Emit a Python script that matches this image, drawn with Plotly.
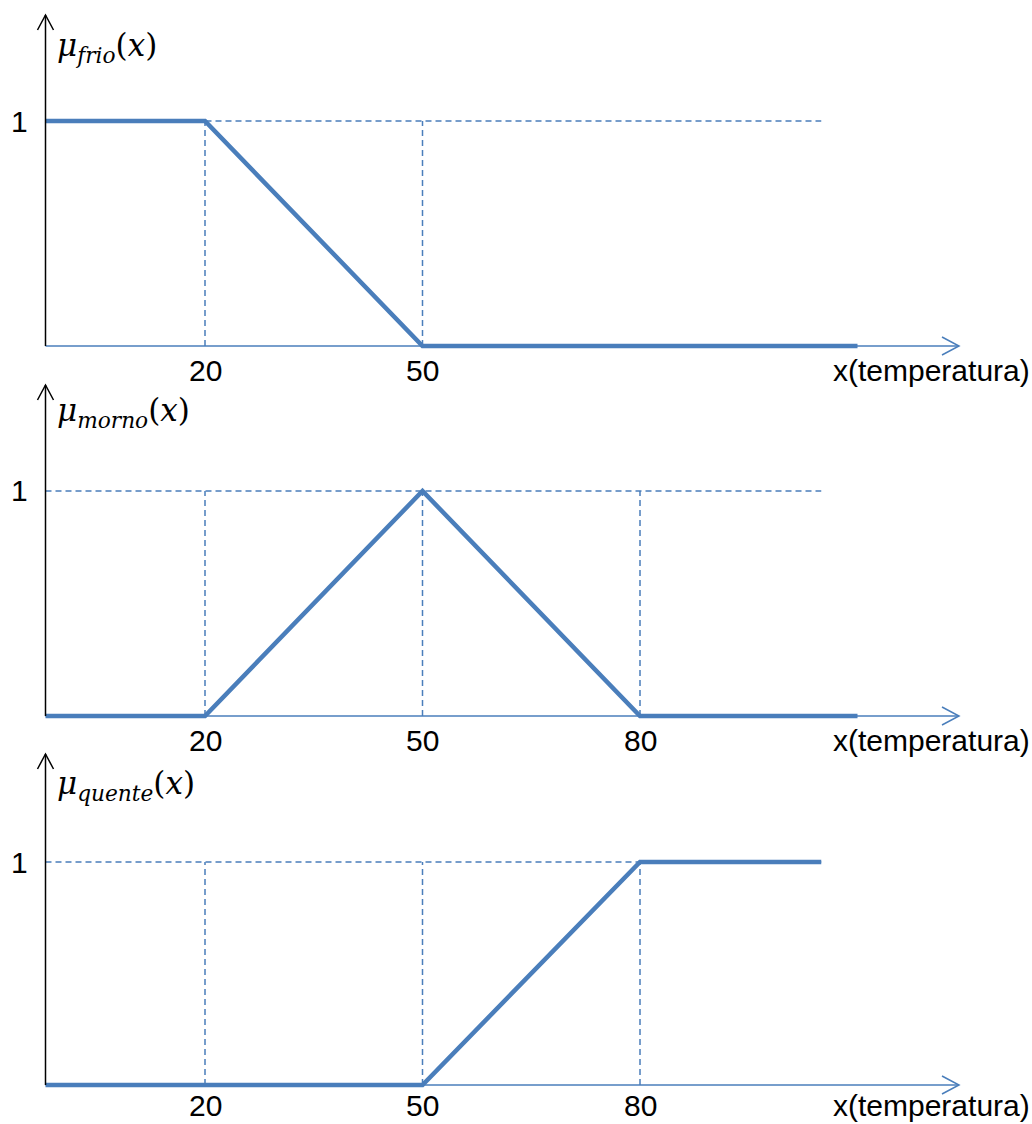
import plotly.graph_objects as go

# ---------------- data ----------------
X_LO = -2          # left end of the universe (where the vertical axis sits)
X_ARROW = 124      # tip of horizontal axis arrow
X_REF_END = 105    # end of dashed reference line at mu = 1

FRIO_X = [X_LO, 20, 50, 110]
FRIO_Y = [1, 1, 0, 0]
MORNO_X = [X_LO, 20, 50, 80, 110]
MORNO_Y = [0, 0, 1, 0, 0]
QUENTE_X = [X_LO, 50, 80, 105]
QUENTE_Y = [0, 0, 1, 1]

TICKS_FRIO = [20, 50]
TICKS_MORNO = [20, 50, 80]
TICKS_QUENTE = [20, 50, 80]

LABELS = ["frio", "morno", "quente"]
X_TITLE = "x(temperatura)"
Y_TICK = "1"

# ---------------- layout helpers ----------------
W, H = 1032, 1124
BLUE = "#4A7EBB"
PX_OFF, PX_SLOPE = 60.0, 7.25


def xd(px):
    return (px - PX_OFF) / PX_SLOPE


# (top_px, bottom_px, baseline_px, px per unit of mu, label shift, mu label centre px)
PANELS = [(0, 372, 346, 225, -24, 47), (372, 745, 716, 225, -24, 413),
          (745, 1124, 1085, 223, -20, 785)]
SERIES = [(FRIO_X, FRIO_Y, TICKS_FRIO), (MORNO_X, MORNO_Y, TICKS_MORNO),
          (QUENTE_X, QUENTE_Y, TICKS_QUENTE)]

TXT = dict(family="Liberation Sans, Arial", size=30, color="black")

fig = go.Figure()
shapes, annotations = [], []
layout = dict(width=W, height=H, margin=dict(l=0, r=0, t=0, b=0),
              plot_bgcolor="white", paper_bgcolor="white", showlegend=False)

for i, ((top, bot, base, sc, lshift, mu_px), (xs, ys, ticks), name) in enumerate(
        zip(PANELS, SERIES, LABELS)):
    n = "" if i == 0 else str(i + 1)
    xa, ya = "x" + n, "y" + n
    layout["xaxis" + n] = dict(domain=[0, 1], range=[xd(0), xd(W)], visible=False,
                               anchor=ya, fixedrange=True)
    layout["yaxis" + n] = dict(domain=[1 - bot / H, 1 - top / H],
                               range=[(base - bot) / sc, (base - top) / sc],
                               visible=False, anchor=xa, fixedrange=True)

    y_tip = 331 / sc
    # dashed guides
    for t in ticks:
        shapes.append(dict(type="line", xref=xa, yref=ya, x0=t, x1=t, y0=0, y1=1,
                           line=dict(color=BLUE, width=1.5, dash="6px,4px")))
    shapes.append(dict(type="line", xref=xa, yref=ya, x0=X_LO, x1=X_REF_END, y0=1, y1=1,
                       line=dict(color=BLUE, width=1.5, dash="6px,4px")))
    # horizontal axis (blue) with open arrow head
    shapes.append(dict(type="line", xref=xa, yref=ya, x0=X_LO, x1=X_ARROW, y0=0, y1=0,
                       line=dict(color=BLUE, width=1.5)))
    adx = 17 / PX_SLOPE
    ady = 9 / sc
    shapes.append(dict(type="path", xref=xa, yref=ya,
                       path=f"M {X_ARROW-adx},{ady} L {X_ARROW},0 L {X_ARROW-adx},{-ady}",
                       line=dict(color=BLUE, width=1.5)))
    # vertical axis (black) with open arrow head
    shapes.append(dict(type="line", xref=xa, yref=ya, x0=X_LO, x1=X_LO, y0=0, y1=y_tip,
                       line=dict(color="black", width=1.5)))
    vdx = 8 / PX_SLOPE
    vdy = 15 / sc
    shapes.append(dict(type="path", xref=xa, yref=ya,
                       path=f"M {X_LO-vdx},{y_tip-vdy} L {X_LO},{y_tip} L {X_LO+vdx},{y_tip-vdy}",
                       line=dict(color="black", width=1.5)))

    # membership function
    fig.add_trace(go.Scatter(x=xs, y=ys, mode="lines", xaxis=xa, yaxis=ya,
                             line=dict(color=BLUE, width=4.5), hoverinfo="skip"))

    # tick labels
    for t in ticks:
        annotations.append(dict(xref=xa, yref=ya, x=t, y=0, text=str(t), showarrow=False,
                                xanchor="center", yanchor="middle", yshift=lshift, font=TXT))
    annotations.append(dict(xref="paper", yref=ya, x=1, y=0, text=X_TITLE, showarrow=False,
                            xanchor="right", yanchor="middle", yshift=lshift, font=TXT))
    annotations.append(dict(xref="paper", yref=ya, x=19 / W, y=1, text=Y_TICK, showarrow=False,
                            xanchor="center", yanchor="middle", font=TXT))
    # mu label
    annotations.append(dict(xref=xa, yref=ya, x=xd(55), y=(base - mu_px) / sc,
                            text=f"<i>μ</i><sub><i>{name}</i></sub>(<i>x</i>)", showarrow=False,
                            xanchor="left", yanchor="middle",
                            font=dict(family="DejaVu Serif", size=31, color="black")))

layout["shapes"] = shapes
layout["annotations"] = annotations
fig.update_layout(**layout)
fig.write_html("out.html")
